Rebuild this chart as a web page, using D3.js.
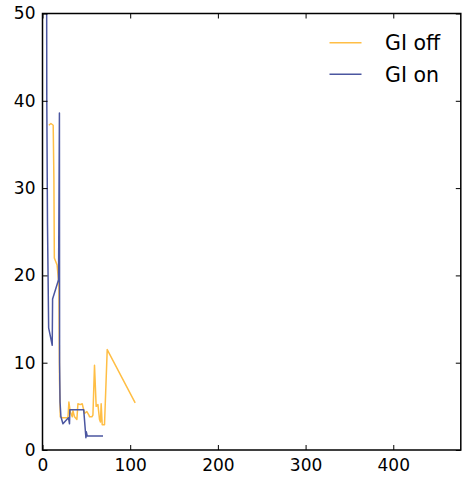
<!DOCTYPE html>
<html>
<head>
<meta charset="utf-8">
<script src="https://cdn.jsdelivr.net/npm/d3@7/dist/d3.min.js"></script>
<style>
html,body{margin:0;padding:0;background:#fff;}
text{font-family:"DejaVu Sans",sans-serif;}
</style>
</head>
<body>
<svg id="chart" width="462" height="480"></svg>
<script>
const seriesNames = ["GI off", "GI on"];
const seriesColors = ["#ffbe45", "#4b56a0"];

const offX = [7.3, 9.6, 12.2, 13.0, 13.5, 16.6, 18.7, 19.4, 20.3, 22.5, 29.0, 30.1, 31.6, 33.9, 34.7, 36.5, 39.2, 40.4, 43.0, 45.3, 47.9, 50.6, 52.9, 53.6, 56.3, 57.5, 59.3, 61.2, 63.2, 65.0, 66.1, 66.9, 68.1, 70.7, 73.8, 105.7];
const offY = [37.2, 37.4, 37.2, 31.0, 22.0, 21.2, 19.0, 8.0, 3.8, 3.7, 3.7, 5.5, 4.4, 3.8, 4.5, 3.8, 3.5, 5.3, 5.2, 5.3, 4.2, 4.4, 4.0, 3.8, 3.8, 4.0, 9.7, 5.0, 5.2, 3.5, 3.2, 5.3, 2.9, 2.9, 11.5, 5.4];

const onX = [4.6, 4.9, 5.7, 7.0, 11.1, 11.5, 18.3, 19.3, 19.5, 20.0, 21.0, 23.3, 25.9, 29.6, 30.8, 31.2, 47.0, 49.5, 49.9, 51.0, 69.0];
const onY = [62, 40, 25.8, 14.0, 12.0, 17.3, 19.5, 38.6, 10.0, 5.5, 3.8, 3.0, 3.3, 3.7, 3.0, 4.6, 4.6, 1.4, 2.1, 1.6, 1.6];

const xTicks = [0, 100, 200, 300, 400];
const yTicks = [0, 10, 20, 30, 40, 50];
const xDomain = [0, 477];
const yDomain = [0, 50];

const svg = d3.select("#chart");
const L = 42.5, R = 460.8, T = 13.5, B = 450;
const x = d3.scaleLinear().domain(xDomain).range([L, R]);
const y = d3.scaleLinear().domain(yDomain).range([B, T]);

svg.append("clipPath").attr("id", "clip")
  .append("rect").attr("x", L).attr("y", T).attr("width", R - L).attr("height", B - T);

const line = d3.line().x(d => x(d[0])).y(d => y(d[1]));
const data = [d3.zip(offX, offY), d3.zip(onX, onY)];
const g = svg.append("g").attr("clip-path", "url(#clip)");
data.forEach((d, i) => {
  g.append("path").datum(d).attr("d", line)
    .attr("fill", "none").attr("stroke", seriesColors[i])
    .attr("stroke-width", 1.5).attr("stroke-linejoin", "round");
});

const tl = 5;
const fs = 17;
const xb = svg.append("g").attr("transform", `translate(0,${B})`)
  .call(d3.axisBottom(x).tickValues(xTicks).tickSize(-tl).tickPadding(tl + 4).tickFormat(d3.format("d")));
const xt = svg.append("g").attr("transform", `translate(0,${T})`)
  .call(d3.axisTop(x).tickValues(xTicks).tickSize(-tl).tickFormat(""));
const yl = svg.append("g").attr("transform", `translate(${L},0)`)
  .call(d3.axisLeft(y).tickValues(yTicks).tickSize(-tl).tickPadding(tl + 2).tickFormat(d3.format("d")));
const yr = svg.append("g").attr("transform", `translate(${R},0)`)
  .call(d3.axisRight(y).tickValues(yTicks).tickSize(-tl).tickFormat(""));
[xb, xt, yl, yr].forEach(a => {
  a.select(".domain").remove();
  a.selectAll("line").attr("stroke", "#000").attr("stroke-width", 1);
  a.selectAll("text").attr("fill", "#000").style("font-size", fs + "px").style("font-family", "DejaVu Sans");
});

svg.append("rect").attr("x", L).attr("y", T).attr("width", R - L).attr("height", B - T)
  .attr("fill", "none").attr("stroke", "#000").attr("stroke-width", 1.5);

const leg = svg.append("g");
seriesNames.forEach((n, i) => {
  const yy = 42.7 + i * 31.5;
  leg.append("line").attr("x1", 329.5).attr("x2", 361.5).attr("y1", yy).attr("y2", yy)
    .attr("stroke", seriesColors[i]).attr("stroke-width", 1.5);
  leg.append("text").attr("x", 385).attr("y", yy + 7.3).text(n)
    .style("font-size", "20.5px").attr("fill", "#000");
});
</script>
</body>
</html>
